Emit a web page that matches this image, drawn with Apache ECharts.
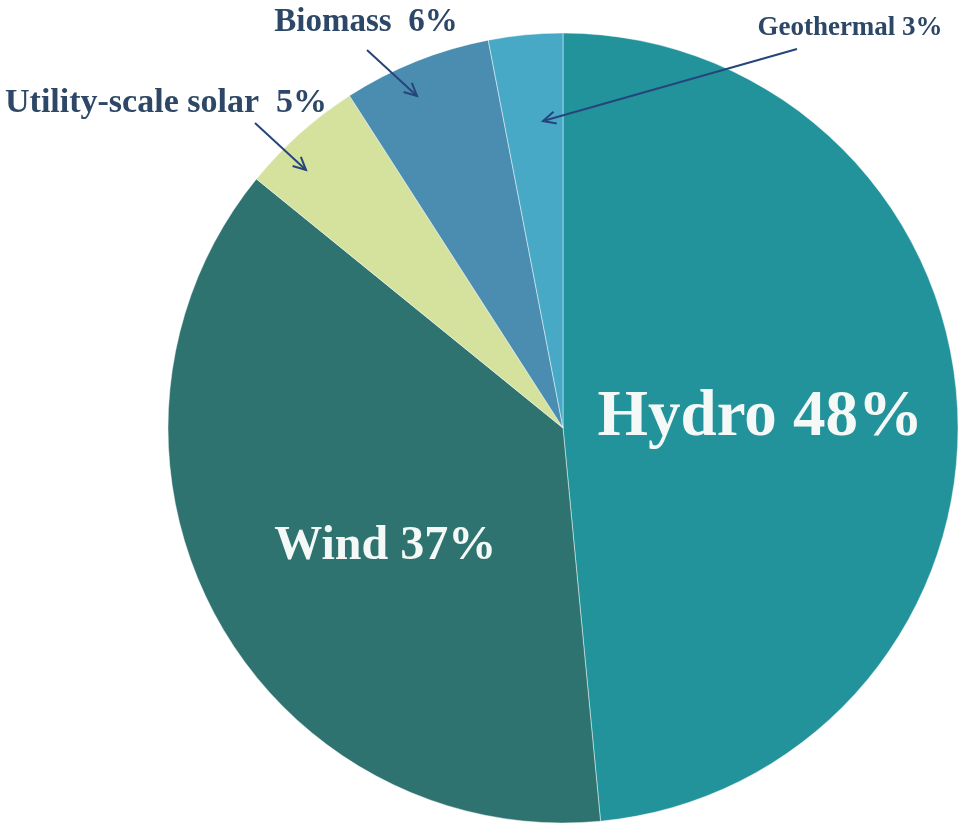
<!DOCTYPE html>
<html><head><meta charset="utf-8">
<script src="https://cdn.jsdelivr.net/npm/echarts@6/dist/echarts.min.js"></script>
<style>html,body{margin:0;padding:0;background:#fff}#c{width:961px;height:829px}</style>
</head><body><div id="c"></div>
<script>
const categories = ['Hydro', 'Wind', 'Utility-scale solar', 'Biomass', 'Geothermal'];
const values = [48, 37, 5, 6, 3];
const separators = [' ', ' ', '  ', '  ', ' '];
const colors = ['#22939b', '#2e7370', '#d4e29e', '#4a8db0', '#48a9c6'];

const navy = '#2d4766';

// label layout (positions/sizes only)
const outerPos = {2: [166, 103], 3: [366, 22], 4: [850, 28]};
const insideShift = {0: [-3, 0], 1: [-1, 24]};
const labelSizes = [65, 48, 34, 33, 27];

const data = categories.map((c, i) => {
  const inside = i < 2;
  return {
    name: c,
    value: values[i],
    itemStyle: {color: colors[i]},
    label: {
      position: inside ? 'inside' : 'outside',
      color: inside ? '#f4f8f6' : navy,
      fontFamily: '"Liberation Serif", serif',
      fontWeight: 'bold',
      fontSize: labelSizes[i],
      overflow: 'none'
    },
    labelLine: {show: false}
  };
});

const chart = echarts.init(document.getElementById('c'));

function arrow(x1, y1, x2, y2) {
  const a = Math.atan2(y2 - y1, x2 - x1);
  const L = 14, w = 0.45;
  return [
    {type: 'line', z: 100, shape: {x1, y1, x2, y2}, style: {stroke: '#26457a', lineWidth: 2}},
    {type: 'polyline', z: 100, shape: {points: [
      [x2 - L * Math.cos(a - w), y2 - L * Math.sin(a - w)],
      [x2, y2],
      [x2 - L * Math.cos(a + w), y2 - L * Math.sin(a + w)]
    ]}, style: {stroke: '#26457a', lineWidth: 2, fill: null}}
  ];
}

chart.setOption({
  backgroundColor: '#ffffff',
  animation: false,
  series: [{
    type: 'pie',
    center: [563, 428],
    radius: [0, 395],
    startAngle: 90,
    clockwise: true,
    data: data,
    itemStyle: {borderColor: 'rgba(255,255,255,0.45)', borderWidth: 1},
    label: {
      formatter: p => p.name + separators[p.dataIndex] + p.value + '%'
    },
    labelLayout: p => {
      const pos = outerPos[p.dataIndex];
      if (pos) return {x: pos[0], y: pos[1], align: 'center', verticalAlign: 'middle'};
      const s = insideShift[p.dataIndex];
      return {dx: s[0], dy: s[1]};
    },
    emphasis: {disabled: true}
  }],
  graphic: [].concat(
    arrow(797, 49, 543, 121),
    arrow(367, 50, 417, 96),
    arrow(255, 123, 306, 170)
  )
});
</script>
</body></html>
